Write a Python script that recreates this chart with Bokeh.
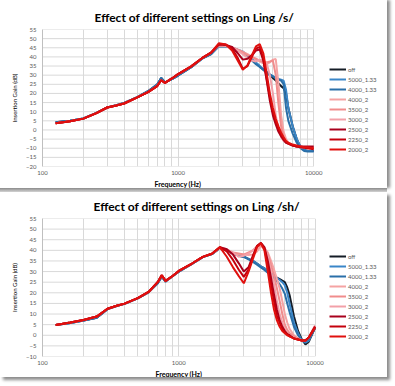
from bokeh.plotting import figure
from bokeh.models import (FixedTicker, Legend, LegendItem, Spacer, Range1d, NumeralTickFormatter,
                          Title)
from bokeh.layouts import column
from bokeh.embed import file_html
from bokeh.resources import INLINE

# ---------------- data ----------------
SERIES = ["off", "5000_1.33", "4000_1.33", "4000_2", "3500_2", "3000_2", "2500_2", "2250_2", "2000_2"]
COLORS = ["#141c26", "#3a86c8", "#2a6fa8", "#f5a3a3", "#f08c8c", "#f2a0a8", "#a8001c", "#c4000c", "#e0100e"]

LOW_F = [125, 160, 200, 250, 300, 350, 400, 500, 600, 700, 750, 800, 900, 1000, 1250, 1500, 1750]
HIGH_F = [2000, 2250, 2500, 2750, 3000, 3250, 3500, 3750, 4000, 4250, 4500, 4750, 5000, 5250,
          5500, 5750, 6000, 6250, 6500, 7000, 7500, 8000, 8500, 9000, 10000]

# chart 1: /s/
S_LOW_BLUE = [4.2, 5.0, 6.3, 9.4, 12.3, 13.6, 14.8, 18.0, 21.2, 24.8, 28.5, 26.0, 27.8, 29.8, 34.4, 39.0, 41.5]
S_LOW_RED = [3.7, 4.8, 6.2, 9.2, 12.3, 13.4, 14.5, 17.8, 20.7, 24.0, 27.2, 25.8, 28.2, 30.6, 34.8, 39.3, 42.3]
S_OFF = [46.0, 45.8, 44.8, 43.5, 42.3, 40.5, 38.5, 36.5, 34.8, 33.0, 31.5, 30.0, 28.5, 27.0,
         25.5, 24.0, 22.8, 20.0, 12.0, 2.0, -5.0, -9.5, -11.0, -11.5, -11.5]
S_5000_133 = [46.0, 45.8, 45.0, 44.0, 43.0, 41.0, 39.0, 37.0, 35.0, 33.3, 31.8, 30.5, 29.5, 28.5,
              28.0, 27.5, 27.0, 22.0, 12.0, 2.0, -5.0, -9.0, -11.0, -11.5, -11.5]
S_4000_133 = [46.0, 45.8, 45.0, 43.8, 42.5, 40.5, 38.0, 36.0, 34.5, 33.0, 31.5, 30.3, 29.3, 28.3,
              27.5, 27.0, 25.0, 12.0, 5.0, -2.0, -7.0, -10.0, -11.5, -11.8, -11.8]
S_4000_2 = [46.2, 46.0, 45.2, 44.0, 42.8, 41.5, 40.0, 38.5, 37.5, 36.5, 36.0, 37.0, 38.5, 38.8,
            25.0, 8.0, -1.0, -5.0, -7.0, -8.5, -9.0, -9.5, -9.5, -10.0, -10.0]
S_3500_2 = [46.3, 46.0, 45.2, 44.0, 42.5, 41.0, 40.0, 39.0, 38.0, 37.5, 37.0, 37.5, 38.0, 30.0,
            14.0, 2.0, -4.0, -6.5, -7.5, -8.5, -9.0, -9.0, -9.5, -9.5, -10.0]
S_3000_2 = [46.5, 46.0, 45.0, 43.5, 41.5, 39.5, 38.0, 37.5, 38.5, 38.0, 36.5, 30.0, 20.0, 8.0,
            0.0, -4.0, -6.0, -7.0, -7.5, -8.5, -9.0, -9.5, -9.5, -9.5, -9.5]
S_2500_2 = [46.8, 46.5, 45.5, 42.0, 38.5, 39.0, 41.0, 43.5, 44.0, 38.0, 27.0, 16.0, 8.0, 3.0,
            -1.0, -3.5, -5.5, -7.0, -7.5, -8.5, -9.0, -9.0, -9.0, -9.0, -9.0]
S_2250_2 = [47.0, 46.8, 44.5, 39.5, 33.5, 35.0, 40.0, 44.5, 45.5, 39.0, 28.0, 18.0, 10.0, 4.5,
            0.5, -2.5, -5.0, -6.5, -7.5, -8.5, -9.0, -9.5, -9.8, -10.0, -10.5]
S_2000_2 = [47.5, 46.8, 43.5, 38.0, 33.0, 35.5, 41.0, 45.8, 47.0, 42.0, 31.0, 20.0, 12.0, 6.0,
            2.0, -1.5, -4.0, -6.0, -7.0, -8.0, -8.5, -9.0, -9.5, -9.5, -10.0]

# chart 2: /sh/
SH_LOW_BLUE = [4.8, 5.8, 7.0, 8.3, 12.3, 13.8, 14.8, 17.4, 20.2, 24.5, 27.6, 25.3, 27.8, 30.0, 33.6, 36.8, 38.2]
SH_LOW_RED = [4.8, 6.0, 7.2, 8.8, 12.5, 13.9, 14.9, 17.5, 20.4, 25.0, 28.3, 25.6, 27.9, 30.3, 33.8, 36.9, 38.4]
SH_OFF = [41.0, 40.0, 38.5, 37.5, 37.0, 36.0, 35.0, 33.8, 32.5, 31.5, 30.5, 29.3, 28.0, 27.2,
          26.5, 25.7, 25.0, 22.5, 19.0, 9.0, 2.0, -2.0, -4.3, -3.0, 3.5]
SH_5000_133 = [41.0, 40.0, 38.5, 37.5, 37.0, 36.0, 35.0, 33.8, 32.5, 31.5, 30.5, 29.3, 28.0, 27.0,
               26.0, 25.0, 23.5, 20.0, 15.0, 6.0, 1.0, -2.5, -3.5, -2.5, 3.5]
SH_4000_133 = [41.0, 40.0, 38.5, 37.5, 37.0, 35.8, 34.6, 33.3, 32.0, 30.8, 29.5, 28.2, 27.0, 25.5,
               24.0, 22.0, 19.5, 15.0, 11.0, 4.0, 0.0, -2.5, -3.0, -2.0, 3.5]
SH_4000_2 = [41.0, 40.0, 38.5, 38.0, 38.0, 37.8, 38.0, 39.5, 42.0, 41.0, 39.0, 35.0, 31.0, 26.5,
             22.0, 16.0, 10.0, 6.0, 3.0, 0.0, -1.5, -2.5, -2.5, -1.0, 4.5]
SH_3500_2 = [41.0, 40.0, 39.0, 38.5, 38.0, 39.0, 40.0, 41.5, 42.5, 41.0, 38.0, 33.0, 28.0, 22.0,
             16.0, 10.0, 5.0, 2.5, 1.0, -0.5, -1.5, -2.5, -2.5, -1.0, 4.5]
SH_3000_2 = [41.5, 40.5, 39.0, 37.0, 37.5, 38.5, 40.0, 42.0, 43.0, 41.0, 37.0, 30.0, 24.0, 16.0,
             10.0, 6.0, 3.0, 1.0, 0.0, -1.0, -2.0, -2.5, -2.5, -1.0, 4.5]
SH_2500_2 = [41.5, 40.5, 38.0, 34.0, 30.0, 32.0, 37.5, 42.0, 43.5, 41.5, 35.0, 27.0, 19.0, 12.0,
             7.0, 4.0, 2.0, 0.5, 0.0, -1.5, -2.0, -2.5, -2.5, -1.0, 4.0]
SH_2250_2 = [41.5, 39.5, 35.5, 31.0, 27.5, 31.0, 37.0, 42.0, 43.5, 41.0, 33.0, 24.0, 16.0, 9.0,
             6.0, 3.0, 1.5, 0.5, -0.5, -1.5, -2.0, -2.5, -2.5, -1.0, 4.0]
SH_2000_2 = [41.5, 37.0, 32.0, 28.0, 24.5, 30.0, 36.0, 41.5, 43.3, 40.0, 30.0, 20.0, 12.0, 7.0,
             4.0, 2.0, 1.0, 0.0, -0.5, -1.5, -2.0, -2.5, -2.5, -1.0, 3.5]

CHART1_TITLE = "Effect of different settings on Ling /s/"
CHART2_TITLE = "Effect of different settings on Ling /sh/"
X_LABEL = "Frequency (Hz)"
Y_LABEL = "Insertion Gain (dB)"
X_TICKS = [100, 1000, 10000]
X_GRID = [100, 200, 300, 400, 500, 600, 700, 800, 900, 1000, 2000, 3000, 4000, 5000, 6000,
          7000, 8000, 9000, 10000]
X_DATA_END = 10000

FONT = "Lato"
GREY = "#595959"
GRID = "#d9d9d9"


def make_chart(title, low_blue, low_red, highs, ymin, height, b_top, b_bottom,
               x_end, t_offset, t_standoff, xl_offset, leg_y, shadow):
    p = figure(width=387, height=height, x_axis_type="log",
               x_range=Range1d(100, x_end), y_range=Range1d(ymin, 55),
               output_backend="svg", toolbar_location=None,
               min_border_left=42, min_border_right=0,
               min_border_top=b_top, min_border_bottom=b_bottom,
               styles={"box-shadow": shadow})
    p.title.text = title
    p.title.text_font = FONT
    p.title.text_font_size = "12px"
    p.title.text_font_style = "bold"
    p.title.text_color = "#000000"
    p.title.align = "left"
    p.title.offset = t_offset
    p.title.standoff = t_standoff
    p.outline_line_color = None
    p.background_fill_color = "white"
    p.border_fill_color = "white"

    y_ticks = list(range(ymin, 56, 5))
    p.xgrid.ticker = FixedTicker(ticks=X_GRID)
    p.xgrid.grid_line_color = GRID
    p.ygrid.grid_line_color = None
    # horizontal grid lines only across the plotted frequency span
    p.segment(x0=[100] * len(y_ticks), x1=[X_DATA_END] * len(y_ticks), y0=y_ticks, y1=y_ticks,
              line_color=GRID, line_width=1)

    p.xaxis.ticker = FixedTicker(ticks=X_TICKS)
    p.xaxis.formatter = NumeralTickFormatter(format="0")
    p.yaxis.ticker = FixedTicker(ticks=y_ticks)
    for ax in (p.xaxis, p.yaxis):
        ax.major_tick_line_color = None
        ax.minor_tick_line_color = None
        ax.major_tick_out = 2
        ax.major_label_text_font = FONT
        ax.major_label_text_font_size = "6px"
        ax.major_label_text_color = GREY
    p.xaxis.axis_line_color = None
    p.yaxis.axis_line_color = "#bfbfbf"
    p.xaxis.major_label_standoff = 2
    p.yaxis.major_label_standoff = 4
    p.yaxis.axis_label = Y_LABEL
    p.yaxis.axis_label_text_font = FONT
    p.yaxis.axis_label_text_font_size = "6px"
    p.yaxis.axis_label_text_font_style = "normal"
    p.yaxis.axis_label_text_color = "#000000"
    p.yaxis.axis_label_standoff = 5

    xl = Title(text=X_LABEL, align="left", offset=xl_offset, standoff=0,
               text_font=FONT, text_font_size="7px", text_font_style="bold",
               text_color="#000000")
    p.add_layout(xl, "below")

    items = []
    for i, (name, col, hv) in enumerate(zip(SERIES, COLORS, highs)):
        low = low_blue if i < 3 else low_red
        r = p.line(LOW_F + HIGH_F, low + hv, line_color=col, line_width=2)
        items.append(LegendItem(label=name, renderers=[r]))

    leg = Legend(items=items, location=(287, leg_y))
    leg.background_fill_alpha = 0
    leg.border_line_color = None
    leg.padding = 2
    leg.spacing = 0
    leg.margin = 0
    leg.glyph_width = 17
    leg.glyph_height = 10
    leg.label_height = 10
    leg.label_standoff = 2
    leg.label_text_font = FONT
    leg.label_text_font_size = "6px"
    leg.label_text_color = GREY
    p.add_layout(leg)
    return p


p1 = make_chart(CHART1_TITLE, S_LOW_BLUE, S_LOW_RED,
                [S_OFF, S_5000_133, S_4000_133, S_4000_2, S_3500_2, S_3000_2, S_2500_2, S_2250_2, S_2000_2],
                -20, 188, 29, 22, 35000, 52, 10, 112, 12, "3px 0 3px #8c8c8c")
p2 = make_chart(CHART2_TITLE, SH_LOW_BLUE, SH_LOW_RED,
                [SH_OFF, SH_5000_133, SH_4000_133, SH_4000_2, SH_3500_2, SH_3000_2, SH_2500_2, SH_2250_2, SH_2000_2],
                -10, 185, 22, 21, 34000, 51, 9, 113, 15, "3px 3px 3px #8c8c8c")

sep = Spacer(width=387, height=4, styles={"background": "linear-gradient(#8a8a8a, #d4d4d4)"})

layout = column(p1, sep, p2, spacing=0)
open("out.html", "w").write(file_html(layout, INLINE))
